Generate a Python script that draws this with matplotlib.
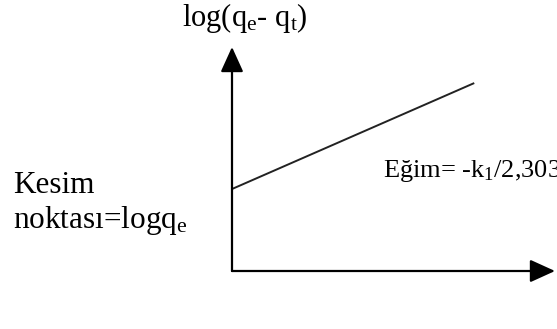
import matplotlib
matplotlib.use("Agg")
import matplotlib.pyplot as plt

plt.rcParams["font.family"] = ["Liberation Serif", "DejaVu Serif"]
plt.rcParams["mathtext.fontset"] = "custom"
plt.rcParams["mathtext.rm"] = "Liberation Serif"
plt.rcParams["mathtext.it"] = "Liberation Serif:italic"

# Pseudo-first-order kinetics: log(qe - qt) versus t (schematic)
t_values = [0.0, 7.5]
log_diff = [3.66, 8.39]

y_label = r"log(q$_\mathrm{e}$- q$_\mathrm{t}$)"
slope_label = r"Eğim= -k$_\mathrm{1}$/2,303"
intercept_label = ["Kesim", r"noktası=logq$_\mathrm{e}$"]

W, H = 557, 329
fig = plt.figure(figsize=(W / 100, H / 100), dpi=100)

def fx(px):
    return px / W

def fy(py):
    return (H - py) / H

ax = fig.add_axes([fx(232), fy(271), fx(555) - fx(232), fy(47) - fy(271)])
ax.set_xlim(0, 10)
ax.set_ylim(0, 10)
ax.axis("off")

arrow = dict(arrowstyle="-|>,head_length=1.1,head_width=0.5",
             color="black", lw=1.6, shrinkA=0, shrinkB=0, mutation_scale=14)
ax.annotate("", xy=(0, 10), xytext=(0, 0), arrowprops=arrow, annotation_clip=False)
ax.annotate("", xy=(10, 0), xytext=(0, 0), arrowprops=arrow, annotation_clip=False)

ax.plot(t_values, log_diff, color="#222222", lw=1.4, solid_capstyle="butt", clip_on=False)

fig.text(fx(182), fy(26), y_label, fontsize=22, va="baseline", ha="left")
fig.text(fx(383), fy(177), slope_label, fontsize=19, va="baseline", ha="left")
fig.text(fx(13), fy(193), intercept_label[0], fontsize=22.5, va="baseline", ha="left")
fig.text(fx(13), fy(228), intercept_label[1], fontsize=22.5, va="baseline", ha="left")

fig.savefig("out.png", dpi=100)
